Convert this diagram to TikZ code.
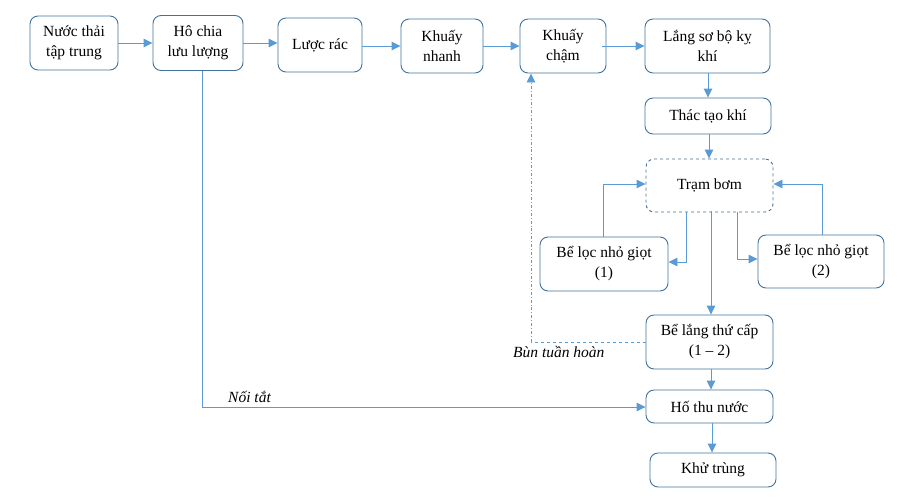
\documentclass[tikz,border=0pt]{standalone}
\usepackage{fontspec}
\setmainfont{Liberation Serif}
\usetikzlibrary{arrows.meta}
\definecolor{boxc}{HTML}{41719C}
\definecolor{arrc}{HTML}{5B9BD5}
\begin{document}
\begin{tikzpicture}[x=1pt,y=-1pt,
  box/.style={draw=boxc, line width=0.9pt, rounded corners=8pt, align=center, inner sep=0pt,
    font=\fontsize{15.5}{20}\selectfont},
  arr/.style={draw=arrc, line width=0.9pt, -{Triangle[length=9pt,width=8.5pt]}},
  lbl/.style={font=\fontsize{15.5}{20}\selectfont\itshape, inner sep=0pt}]
\useasboundingbox (0,0) rectangle (918,498);
\node[box, minimum width=88pt, minimum height=54pt] (n1) at (74,43) {Nước thải\\tập trung};
\node[box, minimum width=90pt, minimum height=55pt] (n2) at (198,43) {Hô chia\\lưu lượng};
\node[box, minimum width=84pt, minimum height=54pt] (n3) at (320,45) {Lược rác};
\node[box, minimum width=82pt, minimum height=54pt] (n4) at (442,46) {Khuấy\\nhanh};
\node[box, minimum width=86pt, minimum height=54pt] (n5) at (563,46) {Khuấy\\chậm};
\node[box, minimum width=125pt, minimum height=54pt] (n6) at (707.5,46) {Lắng sơ bộ kỵ\\khí};
\node[box, minimum width=126pt, minimum height=36pt] (n7) at (708,116) {Thác tạo khí};
\node[box, dashed, minimum width=127pt, minimum height=53pt] (n8) at (709.5,185.5) {Trạm bơm};
\node[box, minimum width=128pt, minimum height=54pt] (n9) at (604,264) {Bể lọc nhỏ giọt\\(1)};
\node[box, minimum width=126pt, minimum height=53pt] (n10) at (821,261.5) {Bể lọc nhỏ giọt\\(2)};
\node[box, minimum width=127pt, minimum height=54pt] (n11) at (709.5,342) {Bể lắng thứ cấp\\(1 – 2)};
\node[box, minimum width=127pt, minimum height=33pt] (n12) at (709.5,406.5) {Hố thu nước};
\node[box, minimum width=126pt, minimum height=34pt] (n13) at (713,470) {Khử trùng};

\draw[arr] (n1.east) -- (n2.west);
\draw[arr] (n2.east |- 0,43) -- (n3.west |- 0,43);
\draw[arr] (n3.east |- 0,46) -- (n4.west |- 0,46);
\draw[arr] (n4.east) -- (n5.west);
\draw[arr] (602,46) -- (n6.west);
\draw[arr] (n6.south -| 708,0) -- (n7.north -| 708,0);
\draw[arr] (n7.south -| 709,0) -- (n8.north -| 709,0);
\draw[arr] (n8.south -| 686,0) |- (n9.east |- 0,262);
\draw[arr] (n9.north -| 603,0) |- (n8.west |- 0,184);
\draw[arr] (n8.south -| 737,0) |- (n10.west |- 0,259);
\draw[arr] (n10.north -| 822,0) |- (n8.east |- 0,184);
\draw[arr] (711,211) -- (n11.north -| 711,0);
\draw[arr] (n11.south -| 711,0) -- (n12.north -| 711,0);
\draw[arr] (n12.south -| 712,0) -- (n13.north -| 712,0);
\draw[arr] (n2.south -| 202,0) |- (n12.west |- 0,407);
\node[lbl, anchor=west] (l1) at (228,397) {Nối tắt};
\coordinate (c1) at (531,342);
\draw[draw=arrc, line width=0.9pt, dashed] (n11.west |- 0,342) -- (c1);
\draw[arr, dash dot] (c1) -- (n5.south -| 531,0);
\node[lbl, anchor=west] (l2) at (513,352) {Bùn tuần hoàn};
\end{tikzpicture}
\end{document}
